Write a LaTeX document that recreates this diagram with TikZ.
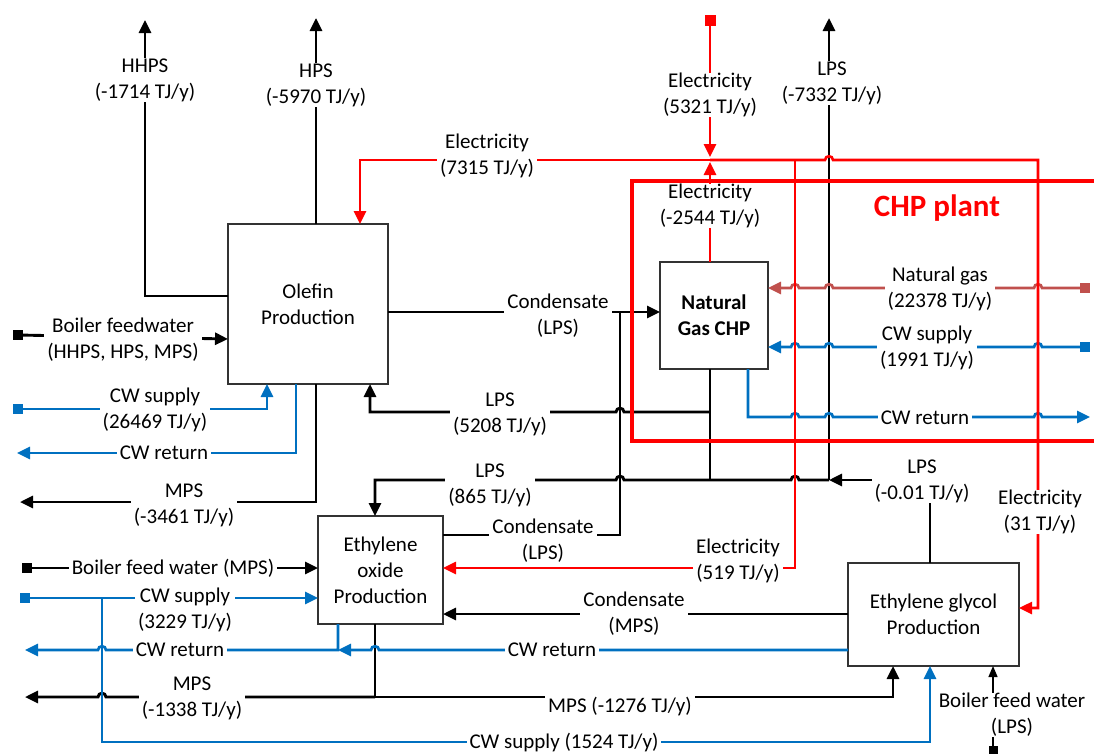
\documentclass[tikz,border=0pt]{standalone}
\usepackage{fontspec}
\setmainfont{Carlito}
\usetikzlibrary{arrows.meta}
\definecolor{cwblue}{HTML}{0070C0}
\definecolor{ngred}{HTML}{C0504D}
\definecolor{elred}{HTML}{FF0000}
\newcommand\hopL[2]{-- ({#1+4},#2) .. controls ({#1+4},{#2-5}) and ({#1-4},{#2-5}) .. ({#1-4},#2)}
\newcommand\hopR[2]{-- ({#1-4},#2) .. controls ({#1-4},{#2-5}) and ({#1+4},{#2-5}) .. ({#1+4},#2)}
\begin{document}
\begin{tikzpicture}[x=1pt,y=-1pt, font=\fontsize{21}{26}\selectfont,
 flow/.style={line width=2.9pt},
 elec/.style={elred, line width=2.6pt},
 cw/.style={cwblue, line width=2.7pt},
 arr/.style={-{Triangle[length=13pt,width=12pt]}},
 lbl/.style={fill=white, inner xsep=3pt, inner ysep=0.5pt, align=center},
 unit/.style={draw=black!80, line width=1.4pt, fill=white, align=center, inner sep=0pt},
 sq/.style={rectangle, fill, minimum size=10pt, inner sep=0pt}]
\useasboundingbox (0,0) rectangle (1094,753);

% process units
\node[unit, minimum width=160pt, minimum height=160pt] (olefin) at (308,304) {Olefin\\Production};
\node[unit, minimum width=108pt, minimum height=107pt, font=\fontsize{21}{26}\selectfont\bfseries] (chp) at (714,315.5) {Natural\\Gas CHP};
\node[unit, minimum width=125pt, minimum height=108pt] (eo) at (380.5,570) {Ethylene\\oxide\\Production};
\node[unit, minimum width=171pt, minimum height=103pt] (eg) at (933.5,614.5) {Ethylene glycol\\Production};

% terminals
\node[sq, elred, minimum size=11pt] (sqE) at (710,20) {};
\node[sq, ngred] (sqNG) at (1085,288) {};
\node[sq, cwblue] (sqCW1) at (1085,347) {};
\node[sq, black] (sqB1) at (18,335) {};
\node[sq, cwblue] (sqCW2) at (18,409) {};
\node[sq, black] (sqB2) at (27,568) {};
\node[sq, cwblue] (sqCW3) at (25,598) {};
\node[sq, black, minimum size=9pt] (sqB3) at (993,750) {};

% black flows
\draw[flow, arr] (228,296) -- (145,296) -- (145,20);
\draw[flow, arr] (316,224) -- (316,18);
\draw[flow, arr] (388,312) -- (660,312);
\draw[flow] (443,535) -- (620,535) -- (620,312);
\draw[flow] (710,369) -- (710,480);
\draw[flow, arr] (710,412) \hopL{620}{412} -- (370,412) -- (370,384);
\draw[flow, arr] (829,480) \hopL{795}{480} \hopL{620}{480} -- (375,480) -- (375,516);
\draw[flow, arr] (829,480) -- (829,18);
\draw[flow, arr] (930,563) -- (930,480) -- (829,480);
\draw[flow, arr] (316,384) -- (316,502) -- (20,502);
\draw[flow, arr] (sqB1.center) -- (228,339);
\draw[flow, arr] (sqB2.center) -- (318,568);
\draw[flow, arr] (848,614) -- (443,614);
\draw[flow] (375,624) -- (375,697);
\draw[flow, arr] (375,697) -- (893,697) -- (893,666);
\draw[flow, arr] (375,697) \hopL{102}{697} -- (25,697);
\draw[line width=1.4pt, -{Triangle[length=11pt,width=9pt]}] (sqB3.center) -- (993,666);

% cooling water
\draw[cw, arr] (sqCW2.center) -- (267,409) -- (267,384);
\draw[cw, arr] (296,384) -- (296,453) -- (17,453);
\draw[cw, arr] (sqCW3.center) -- (318,598);
\draw[cw, arr] (102,598) -- (102,742) -- (930,742) -- (930,666);
\draw[cw, arr] (848,650) \hopL{375}{650} -- (338,650);
\draw[cw, arr] (338,624) -- (338,650) \hopL{102}{650} -- (25,650);
\draw[cw, arr] (sqCW1.center) \hopL{1038}{347} \hopL{829}{347} \hopL{795}{347} -- (768,347);
\draw[cw, arr] (748,369) -- (748,417) \hopR{795}{417} \hopR{829}{417} \hopR{1038}{417} -- (1090,417);

% natural gas
\draw[ngred, line width=2.7pt, arr] (sqNG.center) \hopL{1038}{288} \hopL{829}{288} \hopL{795}{288} -- (768,288);

% electricity
\draw[elec, arr] (sqE.center) -- (710,157);
\draw[elec, arr] (710,262) -- (710,162);
\draw[elec, arr] (710,160) -- (360,160) -- (360,224);
\draw[elec, arr] (710,160) -- (795,160) \hopR{829}{160} -- (1038,160) -- (1038,608) -- (1019,608);
\draw[elec, arr] (795,160) -- (795,568) -- (443,568);

% labels
\node[lbl] at (145,80) {HHPS\\(-1714 TJ/y)};
\node[lbl] at (316,85) {HPS\\(-5970 TJ/y)};
\node[lbl] at (487,156) {Electricity\\(7315 TJ/y)};
\node[lbl] at (710,95) {Electricity\\(5321 TJ/y)};
\node[lbl] at (832,83) {LPS\\(-7332 TJ/y)};
\node[lbl] at (710,206) {Electricity\\(-2544 TJ/y)};
\node[lbl] at (940,289) {Natural gas\\(22378 TJ/y)};
\node[lbl] at (927,348) {CW supply\\(1991 TJ/y)};
\node[lbl] at (925,418) {CW return};
\node[lbl] at (558,316) {Condensate\\(LPS)};
\node[lbl] at (500,414) {LPS\\(5208 TJ/y)};
\node[lbl] at (490,485) {LPS\\(865 TJ/y)};
\node[lbl] at (922,481) {LPS\\(-0.01 TJ/y)};
\node[lbl] at (1040,512) {Electricity\\(31 TJ/y)};
\node[lbl] at (123,340) {Boiler feedwater\\(HHPS, HPS, MPS)};
\node[lbl] at (155,410) {CW supply\\(26469 TJ/y)};
\node[lbl] at (164,453) {CW return};
\node[lbl] at (184,505) {MPS\\(-3461 TJ/y)};
\node[lbl] at (543,541) {Condensate\\(LPS)};
\node[lbl] at (738,561) {Electricity\\(519 TJ/y)};
\node[lbl] at (173,568) {Boiler feed water (MPS)};
\node[lbl] at (185,610) {CW supply\\(3229 TJ/y)};
\node[lbl] at (634,614) {Condensate\\(MPS)};
\node[lbl] at (180,650) {CW return};
\node[lbl] at (552,650) {CW return};
\node[lbl] at (192,698) {MPS\\(-1338 TJ/y)};
\node[lbl] at (620,706) {MPS (-1276 TJ/y)};
\node[lbl] at (564,742) {CW supply (1524 TJ/y)};
\node[lbl] at (1012,715) {Boiler feed water\\(LPS)};

% CHP plant boundary
\draw[elred, line width=4.5pt] (1110,181) -- (632,181) -- (632,441) -- (1110,441);
\node[text=elred, font=\fontsize{31}{36}\selectfont\bfseries] (chplabel) at (937,208) {CHP plant};
\end{tikzpicture}
\end{document}
